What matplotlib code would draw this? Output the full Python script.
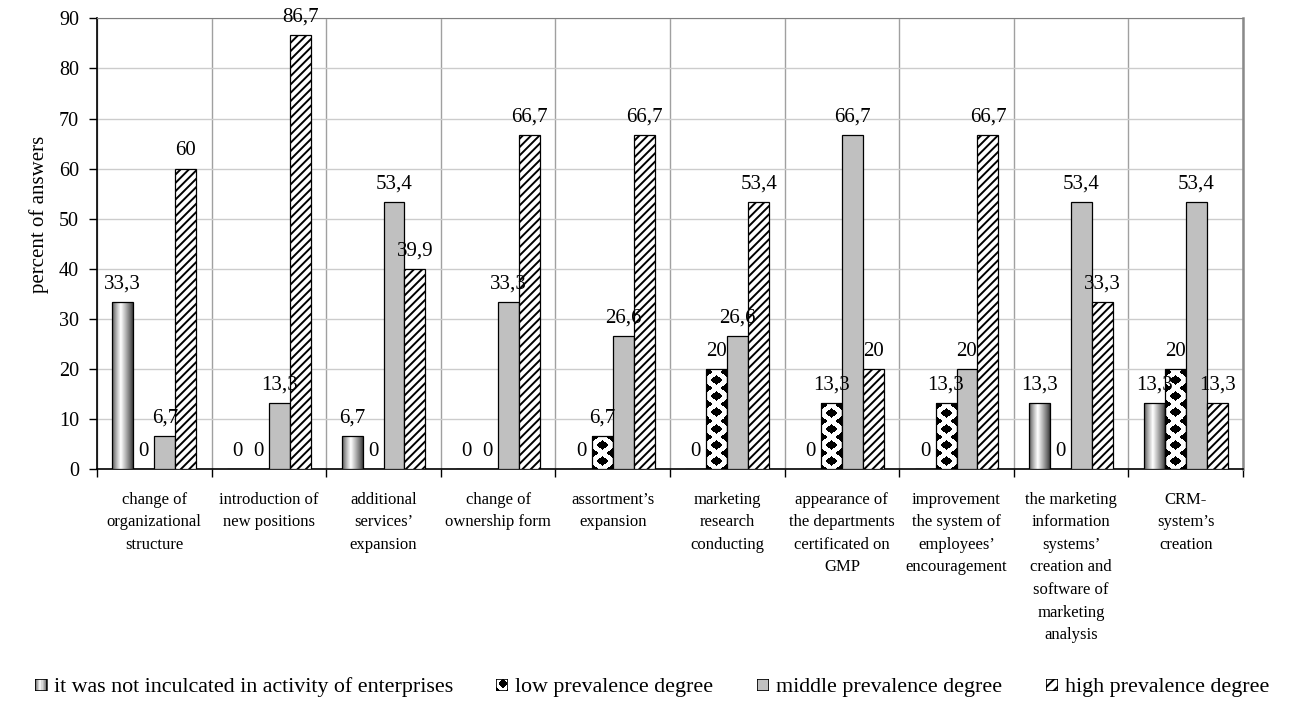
import numpy as np
import matplotlib
matplotlib.use("Agg")
import matplotlib.pyplot as plt
from matplotlib.patches import Rectangle

plt.rcParams['font.family'] = ['Liberation Serif', 'DejaVu Serif']
plt.rcParams['hatch.linewidth'] = 1.4

# ---- data ----
categories = [
    "change of\norganizational\nstructure",
    "introduction of\nnew positions",
    "additional\nservices\u2019\nexpansion",
    "change of\nownership form",
    "assortment\u2019s\nexpansion",
    "marketing\nresearch\nconducting",
    "appearance of\nthe departments\ncertificated on\nGMP",
    "improvement\nthe system of\nemployees\u2019\nencouragement",
    "the marketing\ninformation\nsystems\u2019\ncreation and\nsoftware of\nmarketing\nanalysis",
    "CRM-\nsystem\u2019s\ncreation",
]
series_names = [
    "it was not inculcated in activity of enterprises",
    "low prevalence degree",
    "middle prevalence degree",
    "high prevalence degree",
]
not_inculcated = [33.3, 0, 6.7, 0, 0, 0, 0, 0, 13.3, 13.3]
low_degree = [0, 0, 0, 0, 6.7, 20, 13.3, 13.3, 0, 20]
middle_degree = [6.7, 13.3, 53.4, 33.3, 26.6, 26.6, 66.7, 20, 53.4, 53.4]
high_degree = [60, 86.7, 39.9, 66.7, 66.7, 53.4, 20, 66.7, 33.3, 13.3]
y_ticks = list(range(0, 91, 10))

series = [not_inculcated, low_degree, middle_degree, high_degree]

# ---- figure / axes geometry (pixels) ----
W, H = 1303, 702
ax_left, ax_right, ax_top, ax_bottom = 97, 1243, 18.3, 469.3
fig = plt.figure(figsize=(W / 100, H / 100), dpi=100)
ax = fig.add_axes([ax_left / W, 1 - ax_bottom / H,
                   (ax_right - ax_left) / W, (ax_bottom - ax_top) / H])

n = len(categories)
ymax = 90
px_per_x = (ax_right - ax_left) / n
px_per_y = (ax_bottom - ax_top) / ymax


def cylinder_fill(w, h):
    """Horizontal shaded fill that looks like a lit cylinder."""
    t = (np.arange(w) + 0.5) / w
    peak = 0.42
    b = np.where(t < peak,
                 0.28 + 0.72 * (t / peak) ** 0.8,
                 0.22 + 0.78 * ((1 - t) / (1 - peak)) ** 0.9)
    return np.tile(b, (max(h, 1), 1))


def diamond_fill(w, h, px=None, py=16.0, r=0.62):
    """Staggered black diamonds on white."""
    px = float(w) if px is None else px
    y, x = np.mgrid[0:max(h, 1), 0:w] + 0.5
    hx, hy = px / 2, py / 2
    # normalised L1 distance to the nearest point of either sub-lattice
    dx1 = np.abs(((x + hx) % px) - hx) / hx
    dy1 = np.abs(((y + hy) % py) - hy) / hy
    dx2 = np.abs((x % px) - hx) / hx
    dy2 = np.abs((y % py) - hy) / hy
    d = np.minimum(dx1 + dy1, dx2 + dy2)
    return np.where(d < r, 0.0, 1.0)


fills = [cylinder_fill, diamond_fill, None, None]
faces = ['none', 'none', '#c0c0c0', 'white']
hatches = [None, None, None, '////']

x = np.arange(n)
bw = 0.183
offsets = (np.arange(4) - 1.5) * bw

for s, vals in enumerate(series):
    xs = x + offsets[s]
    bars = ax.bar(xs, vals, bw, facecolor=faces[s], edgecolor='black',
                  linewidth=0.9, hatch=hatches[s], zorder=3)
    if fills[s] is not None:
        for rect, v, xc in zip(bars, vals, xs):
            if v <= 0:
                continue
            wpx = int(round(bw * px_per_x))
            hpx = int(round(v * px_per_y))
            img = fills[s](wpx, hpx)
            im = ax.imshow(img, extent=(xc - bw / 2, xc + bw / 2, 0, v),
                           origin='lower', cmap='gray', vmin=0, vmax=1,
                           aspect='auto', interpolation='nearest', zorder=2.9)
            im.set_clip_path(rect)
    for v, xc in zip(vals, xs):
        ax.annotate(f"{v:g}".replace('.', ','), (xc, v), xytext=(0, 9.7),
                    textcoords='offset points', ha='center', va='baseline',
                    fontsize=15, zorder=4)

ax.set_xlim(-0.5, n - 0.5)
ax.set_ylim(0, ymax)

# axes styling
ax.set_yticks(y_ticks)
ax.tick_params(axis='y', direction='out', length=6, width=1, labelsize=14.5,
               pad=7, color='black')
ax.set_xticks(x)
ax.set_xticklabels(categories, fontsize=12, linespacing=1.55)
ax.set_xticks(np.arange(n + 1) - 0.5, minor=True)
ax.tick_params(axis='x', which='major', length=0, pad=16)
ax.tick_params(axis='x', which='minor', direction='out', length=6, width=1,
               color='black')
ax.yaxis.grid(True, color='#cccccc', linewidth=1, zorder=0)
ax.xaxis.grid(True, which='minor', color='#a0a0a0', linewidth=1, zorder=0)
ax.xaxis.grid(False, which='major')
ax.set_axisbelow(True)
for side in ('left', 'bottom'):
    ax.spines[side].set_color('black')
    ax.spines[side].set_linewidth(1.2)
ax.spines['top'].set_color('#808080')
ax.spines['right'].set_color('#8a8a8a')
ax.spines['right'].set_linewidth(1.8)

ax.set_ylabel("percent of answers", fontsize=15)
ax.yaxis.set_label_coords(-0.042, 0.566)

# ---- legend (drawn along the bottom of the figure) ----
leg_y = 685
box = 12
leg_x = [35, 496, 757, 1046]
for s, name in enumerate(series_names):
    bx = leg_x[s]
    sax = fig.add_axes([bx / W, 1 - (leg_y + box / 2) / H, box / W, box / H])
    sax.set_xlim(0, 1)
    sax.set_ylim(0, 1)
    sax.axis('off')
    if fills[s] is not None:
        img = fills[s](box, box) if s == 0 else diamond_fill(box, box, px=14, py=14)
        sax.imshow(img, extent=(0, 1, 0, 1), origin='lower', cmap='gray',
                   vmin=0, vmax=1, aspect='auto', interpolation='nearest')
        sax.add_patch(Rectangle((0, 0), 1, 1, facecolor='none',
                                edgecolor='black', linewidth=1.2))
    else:
        sax.add_patch(Rectangle((0, 0), 1, 1, facecolor=faces[s],
                                edgecolor='black', linewidth=1.2,
                                hatch='///' if hatches[s] else None))
    fig.text((bx + box + 7) / W, 1 - leg_y / H, name, fontsize=15.8,
             ha='left', va='center_baseline')

fig.savefig("out.png", dpi=100, facecolor='white')
